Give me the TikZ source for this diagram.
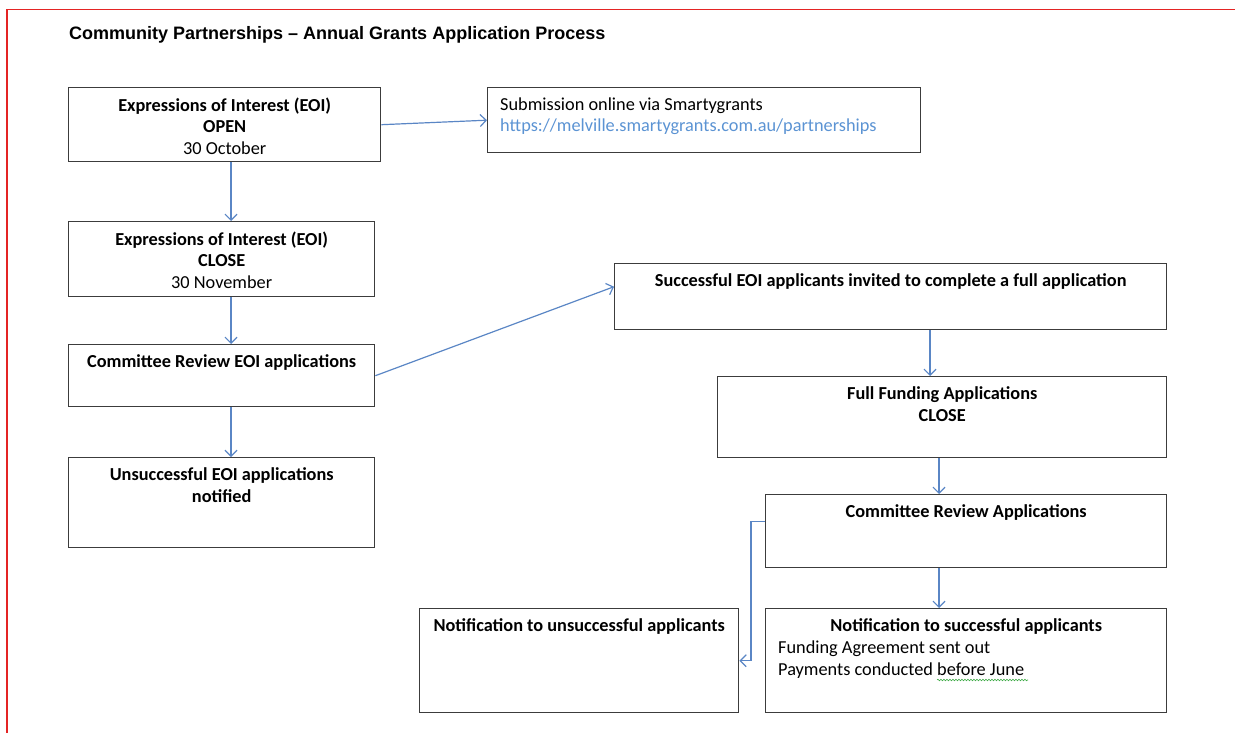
\documentclass[tikz,border=0pt]{standalone}
\usepackage{fontspec}
\setmainfont{Carlito}
\newfontfamily\titlefont{Liberation Sans}
\usepackage{xcolor}
\usetikzlibrary{calc,arrows.meta,decorations.pathmorphing}
\definecolor{frame}{HTML}{E42424}
\definecolor{boxline}{HTML}{3C3C3C}
\definecolor{flow}{HTML}{5A86C5}
\definecolor{link}{HTML}{5B93D3}
\definecolor{spell}{HTML}{3DAA45}
\tikzset{
  frameline/.style={draw=frame, line width=1.2pt},
  box/.style={draw=boxline, line width=1.4pt, anchor=north west, inner sep=0pt},
  flowline/.style={draw=flow, line width=1.2pt, -{Straight Barb[length=6pt,width=12pt]}},
  btxt/.style={font=\bfseries\fontsize{18.3}{21.5}\selectfont, align=center, anchor=north, inner sep=0pt},
  ntxt/.style={font=\fontsize{18.3}{21.5}\selectfont, align=left, anchor=north west, inner sep=0pt},
  ttl/.style={font=\titlefont\bfseries\fontsize{18}{22}\selectfont, anchor=base west, inner sep=0pt}
}
\begin{document}
\begin{tikzpicture}[x=1pt,y=-1pt]
  \useasboundingbox (0,0) rectangle (1235,733);
  \draw[frameline] (7,733) -- (7,9.5) -- (1235,9.5);

  \node[ttl] (title) at (69,40) {Community Partnerships – Annual Grants Application Process};

  % boxes
  \node[box, minimum width=312, minimum height=74] (open) at (68,87) {};
  \node[box, minimum width=433, minimum height=65] (submit) at (487,87) {};
  \node[box, minimum width=306, minimum height=75] (close) at (68,221) {};
  \node[box, minimum width=306, minimum height=62] (review) at (68,344) {};
  \node[box, minimum width=306, minimum height=90] (unsucc) at (68,457) {};
  \node[box, minimum width=552, minimum height=66] (invite) at (614,263) {};
  \node[box, minimum width=449, minimum height=81] (full) at (717,376) {};
  \node[box, minimum width=401, minimum height=73] (final) at (765,494) {};
  \node[box, minimum width=401, minimum height=104] (notes) at (765,608) {};
  \node[box, minimum width=319, minimum height=104] (noteu) at (419,608) {};

  % texts
  \node[btxt] (openT) at ([yshift=-10.5pt]open.north) {Expressions of Interest (EOI)\\OPEN\\{\mdseries 30 October}};
  \node[ntxt] (submitT) at ([xshift=13pt,yshift=-10.5pt]submit.north west) {Submission online via Smartygrants\\{\color{link}https://melville.smartygrants.com.au/partnerships}};
  \node[btxt] (closeT) at ([yshift=-10.5pt]close.north) {Expressions of Interest (EOI)\\CLOSE\\{\mdseries 30 November}};
  \node[btxt] (reviewT) at ([yshift=-10.5pt]review.north) {Committee Review EOI applications};
  \node[btxt] (unsuccT) at ([yshift=-10.5pt]unsucc.north) {Unsuccessful EOI applications\\notified};
  \node[btxt] (inviteT) at ([yshift=-10.5pt]invite.north) {Successful EOI applicants invited to complete a full application};
  \node[btxt] (fullT) at ([yshift=-10.5pt]full.north) {Full Funding Applications\\CLOSE};
  \node[btxt] (finalT) at ([yshift=-10.5pt]final.north) {Committee Review Applications};
  \node[btxt] (notesT) at ([yshift=-10.5pt]notes.north) {Notification to successful applicants};
  \node[ntxt] (notesL) at ([xshift=13pt,yshift=-33pt]notes.north west) {Funding Agreement sent out\\Payments conducted before June};
  \node[btxt] (noteuT) at ([yshift=-10.5pt]noteu.north) {Notification to unsuccessful applicants};
  \draw[spell, line width=0.6pt, decorate, decoration={snake, amplitude=0.8pt, segment length=3pt}] (937,680) -- (1028,680);

  % connectors
  \coordinate (laneL) at (231,0);
  \coordinate (laneM) at (930,0);
  \coordinate (laneR) at (939,0);
  \draw[flowline] (open.east) -- (submit.west);
  \draw[flowline] (open.south -| laneL) -- (close.north -| laneL);
  \draw[flowline] (close.south -| laneL) -- (review.north -| laneL);
  \draw[flowline] (review.south -| laneL) -- (unsucc.north -| laneL);
  \draw[flowline] (review.east) -- ([yshift=10pt]invite.west);
  \draw[flowline] (invite.south -| laneM) -- (full.north -| laneM);
  \draw[flowline] (full.south -| laneR) -- (final.north -| laneR);
  \draw[flowline] (final.south -| laneR) -- (notes.north -| laneR);
  \draw[flowline] ([yshift=10pt]final.west) -- ++(-14,0) |- (noteu.east);
\end{tikzpicture}
\end{document}
